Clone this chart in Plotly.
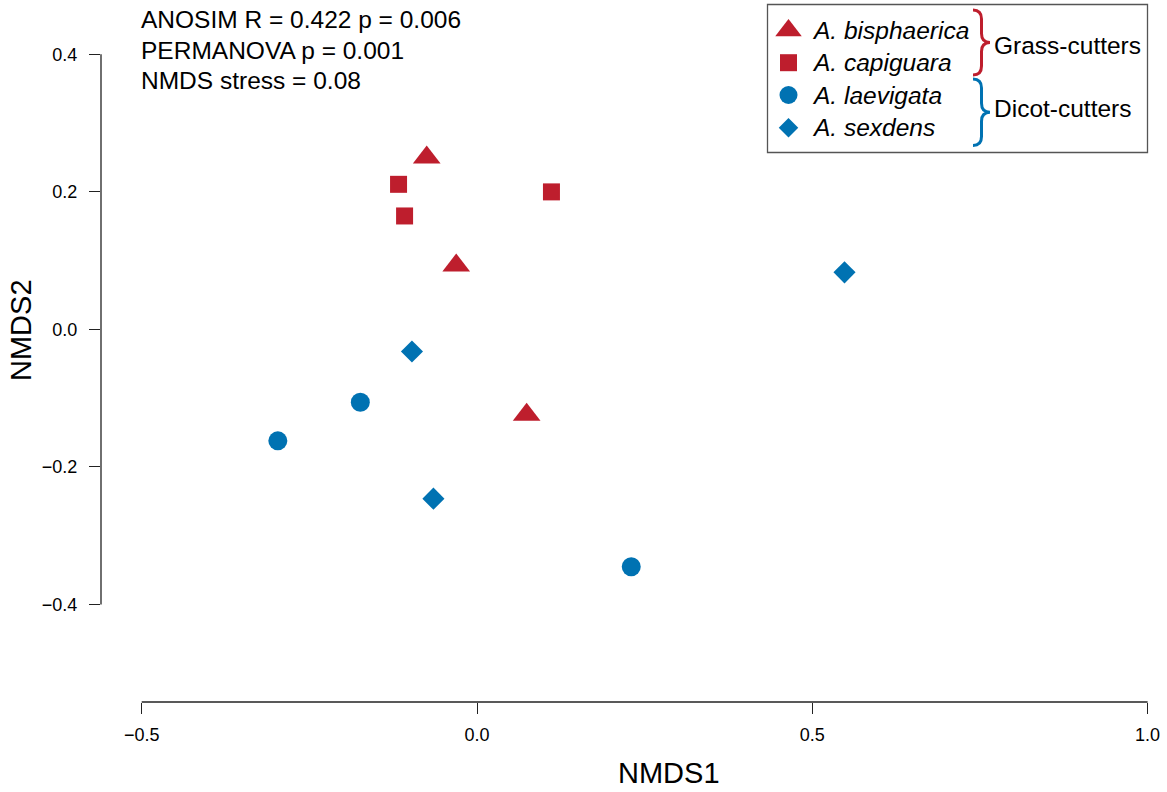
import plotly.graph_objects as go

# NMDS ordination scores per species
bisphaerica_x = [-0.075, -0.031, 0.074]
bisphaerica_y = [0.250, 0.093, -0.124]
capiguara_x = [-0.117, -0.108, 0.111]
capiguara_y = [0.211, 0.165, 0.200]
laevigata_x = [-0.297, -0.174, 0.230]
laevigata_y = [-0.162, -0.106, -0.345]
sexdens_x = [-0.097, -0.065, 0.548]
sexdens_y = [-0.032, -0.246, 0.083]

x_ticks = [-0.5, 0.0, 0.5, 1.0]
y_ticks = [-0.4, -0.2, 0.0, 0.2, 0.4]

species = ["A. bisphaerica", "A. capiguara", "A. laevigata", "A. sexdens"]
groups = ["Grass-cutters", "Dicot-cutters"]
stats_lines = ["ANOSIM R = 0.422 p = 0.006", "PERMANOVA p = 0.001", "NMDS stress = 0.08"]

RED = "#BE1E2D"
BLUE = "#0072B2"
FONT = "Liberation Sans, Arial, Helvetica, sans-serif"

W, H = 1167, 792
ML, MB = 101, 90
PW, PH = W - ML, H - MB

fig = go.Figure()

series = [
    (bisphaerica_x, bisphaerica_y, "triangle-up", 24, RED),
    (capiguara_x, capiguara_y, "square", 17, RED),
    (laevigata_x, laevigata_y, "circle", 19, BLUE),
    (sexdens_x, sexdens_y, "diamond", 17, BLUE),
]
for (xs, ys, sym, sz, col), name in zip(series, species):
    fig.add_trace(go.Scatter(
        x=xs, y=ys, mode="markers", name=name, showlegend=False,
        marker=dict(symbol=sym, size=sz, color=col, line=dict(width=0)),
        cliponaxis=False,
    ))

# Legend drawn on a pixel-space overlay axis (x: 101..1167, y: 0..702 top-down)
leg_rows = [30.5, 62.7, 95.0, 127.7]
leg_sizes = [23, 17, 18, 15]
for (xs, ys, sym, sz, col), name, ry, lsz in zip(series, species, leg_rows, leg_sizes):
    fig.add_trace(go.Scatter(
        x=[788.5], y=[ry], xaxis="x2", yaxis="y2", mode="markers", showlegend=False,
        marker=dict(symbol=sym, size=lsz, color=col, line=dict(width=0)),
        hoverinfo="skip", cliponaxis=False,
    ))

big = dict(family=FONT, size=24.5, color="black")
title_font = dict(family=FONT, size=29, color="black")
annotations = []
for name, ry in zip(species, leg_rows):
    annotations.append(dict(
        x=810, y=ry, xref="x2", yref="y2", text=f"<i>{name}</i>", showarrow=False,
        xanchor="left", yanchor="middle", font=big,
    ))
for g, gy in zip(groups, [45.0, 108.5]):
    annotations.append(dict(
        x=992, y=gy, xref="x2", yref="y2", text=g, showarrow=False,
        xanchor="left", yanchor="middle", font=big,
    ))
for line, sy in zip(stats_lines, [19.5, 50.0, 80.5]):
    annotations.append(dict(
        x=139, y=sy, xref="x2", yref="y2", text=line, showarrow=False,
        xanchor="left", yanchor="middle", font=big,
    ))


def px_x(p):
    return (p - ML) / PW


def px_y(p):
    return (PH - p) / PH


# axis titles (placed in the margins)
annotations.append(dict(
    x=px_x(669), y=px_y(773), xref="paper", yref="paper", text="NMDS1", showarrow=False,
    xanchor="center", yanchor="middle", font=title_font,
))
annotations.append(dict(
    x=px_x(21), y=px_y(330), xref="paper", yref="paper", text="NMDS2", showarrow=False,
    textangle=-90, xanchor="center", yanchor="middle", font=title_font,
))


def brace(x0, xm, xt, y0, y1):
    ym = (y0 + y1) / 2
    r = 9
    return (f"M {x0},{y0} Q {xm},{y0} {xm},{y0 + r} L {xm},{ym - r} "
            f"Q {xm},{ym} {xt},{ym} Q {xm},{ym} {xm},{ym + r} "
            f"L {xm},{y1 - r} Q {xm},{y1} {x0},{y1}")


shapes = [
    # R-style axis lines spanning first to last tick
    dict(type="line", xref="x", yref="paper", x0=x_ticks[0], x1=x_ticks[-1], y0=0, y1=0,
         line=dict(color="#222", width=1.3), layer="above"),
    dict(type="line", xref="paper", yref="y", x0=0, x1=0, y0=y_ticks[0], y1=y_ticks[-1],
         line=dict(color="#222", width=1.3), layer="above"),
    # legend box
    dict(type="rect", xref="x2", yref="y2", x0=767.5, x1=1147.5, y0=4.5, y1=152.5,
         line=dict(color="#555", width=1.3), fillcolor="rgba(0,0,0,0)", layer="above"),
    # group braces
    dict(type="path", xref="x2", yref="y2", path=brace(973, 981.5, 990, 10, 75),
         line=dict(color=RED, width=3)),
    dict(type="path", xref="x2", yref="y2", path=brace(973, 981.5, 990, 79, 145.5),
         line=dict(color=BLUE, width=3)),
]

axis_font = dict(family=FONT, size=18, color="black")
fig.update_layout(
    width=W, height=H,
    margin=dict(l=ML, r=0, t=0, b=MB, pad=0),
    paper_bgcolor="white", plot_bgcolor="white",
    xaxis=dict(range=[-0.5607, 1.0289], tickvals=x_ticks, tickformat=".1f",
               ticks="outside", ticklen=11, tickwidth=1.3, tickcolor="#222",
               showgrid=False, zeroline=False, showline=False,
               tickfont=axis_font, ticklabelstandoff=5, fixedrange=True),
    yaxis=dict(range=[-0.5417, 0.479], tickvals=y_ticks, tickformat=".1f",
               ticks="outside", ticklen=11, tickwidth=1.3, tickcolor="#222",
               showgrid=False, zeroline=False, showline=False,
               tickfont=axis_font, ticklabelstandoff=8, fixedrange=True),
    xaxis2=dict(range=[ML, W], overlaying="x", visible=False, fixedrange=True),
    yaxis2=dict(range=[PH, 0], overlaying="y", visible=False, fixedrange=True),
    annotations=annotations,
    shapes=shapes,
    showlegend=False,
)

fig.write_html("out.html")
